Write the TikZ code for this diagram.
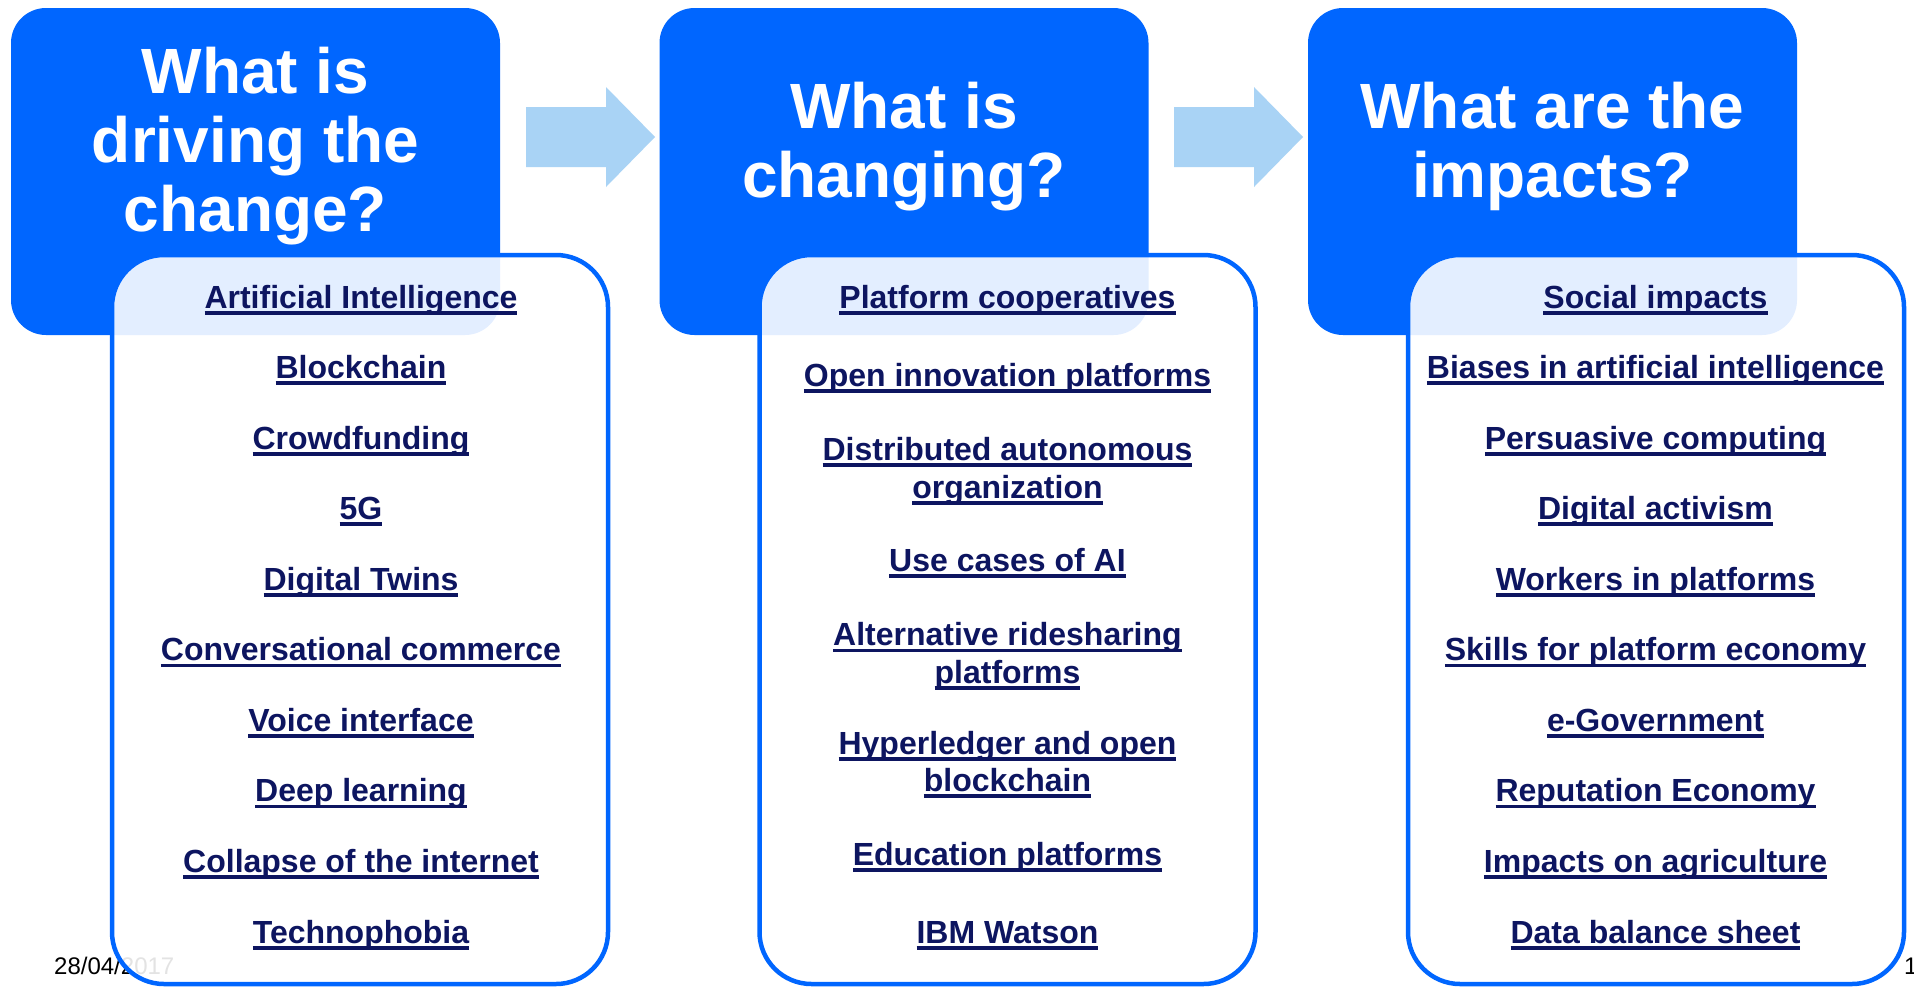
\documentclass[tikz,border=0pt]{standalone}
\usepackage{fontspec}
\setmainfont{Liberation Sans}
\definecolor{boxblue}{RGB}{0,102,255}
\definecolor{arrowblue}{RGB}{169,211,245}
\definecolor{linknavy}{RGB}{13,21,96}
\newcommand\ulink[1]{\setbox0\hbox{#1}\rlap{\rule[-6.5pt]{\wd0}{3.8pt}}\box0}
\tikzset{
  titlebox/.style={fill=boxblue, draw=none, rounded corners=35pt, minimum width=489pt, minimum height=327pt, inner sep=0pt, outer sep=0pt},
  titletext/.style={text=white, font=\fontsize{64}{69}\selectfont\bfseries, align=center, anchor=base, inner sep=0pt},
  listbox/.style={draw=boxblue, line width=4.5pt, fill=white, fill opacity=0.89, draw opacity=1, rounded corners=52pt, minimum width=496pt, minimum height=729pt, inner sep=0pt, outer sep=0pt},
  listitem/.style={text=linknavy, font=\fontsize{32}{37.5}\selectfont\bfseries, align=center, anchor=base, inner sep=0pt},
  flow/.style={fill=arrowblue, draw=none},
  footer/.style={font=\fontsize{24}{28}\selectfont, text=black, anchor=base west, inner sep=0pt},
}
\begin{document}
\begin{tikzpicture}[x=1pt,y=-1pt]
\useasboundingbox (0,0) rectangle (1914,986);
\fill[white] (0,0) rectangle (1914,986);
% footer
\node[footer] (date) at (54,974) {28/04/2017};
\node[footer] (page) at (1904,974) {1};
% title boxes
\node[titlebox] (b1) at (255.5,171.5) {};
\node[titlebox] (b2) at (904,171.5) {};
\node[titlebox] (b3) at (1552.5,171.5) {};
% (base anchor of a multi-line node = baseline of its last line)
\node[titletext] (t1) at (255.5,231) {What is\\driving the\\change?};
\node[titletext] (t2) at (904,197) {What is\\changing?};
\node[titletext] (t3) at (1552.5,197) {What are the\\impacts?};
% block arrows
\fill[flow] (526,107) -- (606,107) -- (606,87) -- (655,137) -- (606,187) -- (606,167) -- (526,167) -- cycle;
\fill[flow] (1174,107) -- (1254,107) -- (1254,87) -- (1303,137) -- (1254,187) -- (1254,167) -- (1174,167) -- cycle;
% list boxes
\node[listbox] (l1) at (360,619.5) {};
\node[listbox] (l2) at (1007.5,619.5) {};
\node[listbox] (l3) at (1656,619.5) {};
% column 1
\node[listitem] (a1) at (361,308) {\ulink{Artificial Intelligence}};
\node[listitem] (a2) at (361,378.6) {\ulink{Blockchain}};
\node[listitem] (a3) at (361,449.1) {\ulink{Crowdfunding}};
\node[listitem] (a4) at (361,519.7) {\ulink{5G}};
\node[listitem] (a5) at (361,590.2) {\ulink{Digital Twins}};
\node[listitem] (a6) at (361,660.8) {\ulink{Conversational commerce}};
\node[listitem] (a7) at (361,731.4) {\ulink{Voice interface}};
\node[listitem] (a8) at (361,801.9) {\ulink{Deep learning}};
\node[listitem] (a9) at (361,872.5) {\ulink{Collapse of the internet}};
\node[listitem] (a10) at (361,943) {\ulink{Technophobia}};
% column 2
\node[listitem] (c1) at (1007.5,308) {\ulink{Platform cooperatives}};
\node[listitem] (c2) at (1007.5,386.7) {\ulink{Open innovation platforms}};
\node[listitem] (c3) at (1007.5,498) {\ulink{Distributed autonomous}\\\ulink{organization}};
\node[listitem] (c4) at (1007.5,571.7) {\ulink{Use cases of AI}};
\node[listitem] (c5) at (1007.5,683.3) {\ulink{Alternative ridesharing}\\\ulink{platforms}};
\node[listitem] (c6) at (1007.5,791.7) {\ulink{Hyperledger and open}\\\ulink{blockchain}};
\node[listitem] (c7) at (1007.5,865) {\ulink{Education platforms}};
\node[listitem] (c8) at (1007.5,943) {\ulink{IBM Watson}};
% column 3
\node[listitem] (d1) at (1655.5,308) {\ulink{Social impacts}};
\node[listitem] (d2) at (1655.5,378.6) {\ulink{Biases in artificial intelligence}};
\node[listitem] (d3) at (1655.5,449.1) {\ulink{Persuasive computing}};
\node[listitem] (d4) at (1655.5,519.7) {\ulink{Digital activism}};
\node[listitem] (d5) at (1655.5,590.2) {\ulink{Workers in platforms}};
\node[listitem] (d6) at (1655.5,660.8) {\ulink{Skills for platform economy}};
\node[listitem] (d7) at (1655.5,731.4) {\ulink{e-Government}};
\node[listitem] (d8) at (1655.5,801.9) {\ulink{Reputation Economy}};
\node[listitem] (d9) at (1655.5,872.5) {\ulink{Impacts on agriculture}};
\node[listitem] (d10) at (1655.5,943) {\ulink{Data balance sheet}};
\end{tikzpicture}
\end{document}
